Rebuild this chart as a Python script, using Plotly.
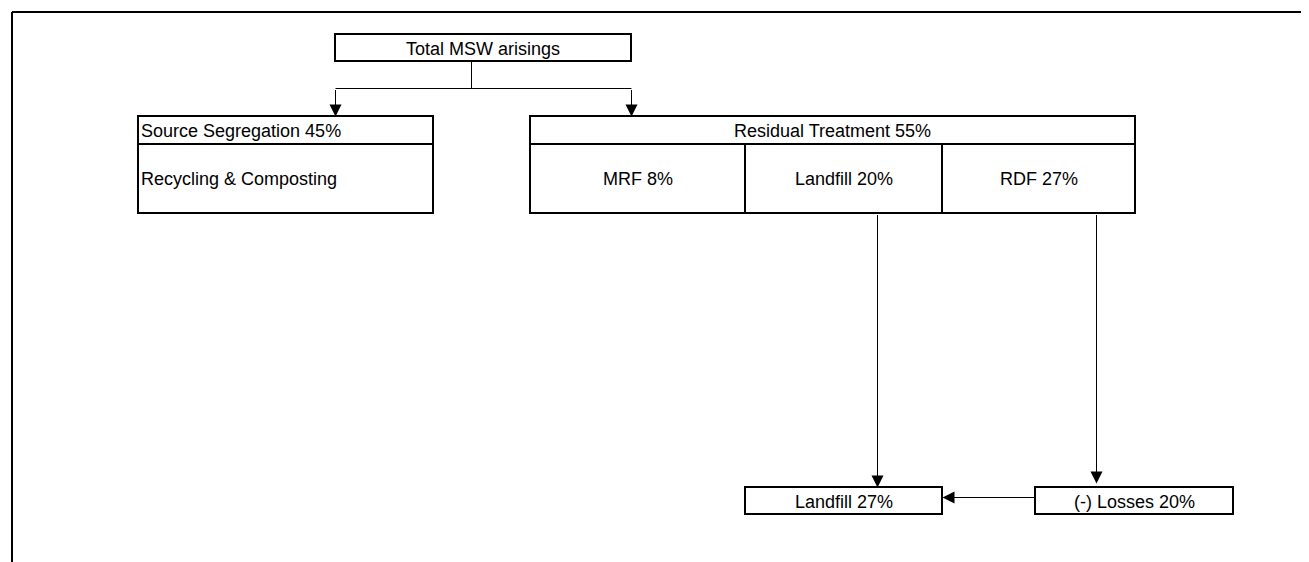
"""MSW treatment flow diagram"""

import plotly.graph_objects as go

# --- data -------------------------------------------------------------
top_label = "Total MSW arisings"
split_names = ["Source Segregation", "Residual Treatment"]
split_pct = [45, 55]
source_sub = "Recycling & Composting"
residual_names = ["MRF", "Landfill", "RDF"]
residual_pct = [8, 20, 27]
final_names = ["Landfill", "(-) Losses"]
final_pct = [27, 20]

# --- geometry (pixel space of the page) --------------------------------
W, H = 1309, 562
PAD = 8  # the page body margin that sits in front of the figure
top_box = (335, 34, 631, 61)
stem_x, bus_y = 471, 88
source_box = (138, 116, 433, 213)
resid_box = (530, 116, 1135, 213)
header_y = 144
resid_div = [745, 942]
final_boxes = [(745, 487, 942, 514), (1035, 487, 1233, 514)]

FONT = dict(family="Liberation Sans, Arial, sans-serif", size=18, color="black")

fig = go.Figure()
shapes = []
annotations = []


def box(x0, y0, x1, y1, width=2):
    shapes.append(dict(type="rect", x0=x0, y0=y0, x1=x1, y1=y1,
                       line=dict(color="black", width=width)))


def line(x0, y0, x1, y1, width=1):
    # half-pixel nudge keeps 1px strokes crisp
    o = 0.5 if width == 1 else 0
    shapes.append(dict(type="line", x0=x0 + o, y0=y0 + o, x1=x1 + o, y1=y1 + o,
                       line=dict(color="black", width=width)))


def arrow(x0, y0, x1, y1):
    annotations.append(dict(x=x1 + 0.5, y=y1 + 0.5, ax=x0 + 0.5, ay=y0 + 0.5,
                            xref="x", yref="y", axref="x", ayref="y", text="",
                            showarrow=True, arrowhead=2, arrowsize=2.4,
                            arrowwidth=1, arrowcolor="black",
                            standoff=0, startstandoff=0))


def label(x, y, text, anchor="center"):
    annotations.append(dict(x=x, y=y, xref="x", yref="y", text=text,
                            showarrow=False, xanchor=anchor, yanchor="middle",
                            font=FONT))


# outer frame (runs off the right and bottom edges)
line(12, 12, W + 20, 12, width=2)
line(12, 12, 12, H + 20, width=2)

# top node
box(*top_box)
label((top_box[0] + top_box[2]) / 2, (top_box[1] + top_box[3]) / 2 + 1, top_label)

# split into two streams
line(stem_x, top_box[3], stem_x, bus_y)
line(top_box[0], bus_y, top_box[2], bus_y)
arrow(top_box[0], bus_y, top_box[0], source_box[1])
arrow(top_box[2], bus_y, top_box[2], resid_box[1])

# source segregation
box(*source_box)
line(source_box[0], header_y, source_box[2], header_y, width=2)
label(source_box[0] + 1, (source_box[1] + header_y) / 2 + 1,
      f"{split_names[0]} {split_pct[0]}%", anchor="left")
label(source_box[0] + 1, (header_y + source_box[3]) / 2, source_sub, anchor="left")

# residual treatment
box(*resid_box)
line(resid_box[0], header_y, resid_box[2], header_y, width=2)
for xd in resid_div:
    line(xd, header_y, xd, resid_box[3], width=2)
label((resid_box[0] + resid_box[2]) / 2, (resid_box[1] + header_y) / 2 + 1,
      f"{split_names[1]} {split_pct[1]}%")
edges = [resid_box[0]] + resid_div + [resid_box[2]]
for i, (name, pct) in enumerate(zip(residual_names, residual_pct)):
    label((edges[i] + edges[i + 1]) / 2, (header_y + resid_box[3]) / 2, f"{name} {pct}%")

# final destinations
for (x0, y0, x1, y1), name, pct in zip(final_boxes, final_names, final_pct):
    box(x0, y0, x1, y1)
    label((x0 + x1) / 2, (y0 + y1) / 2 + 1, f"{name} {pct}%")

arrow(877, resid_box[3], 877, final_boxes[0][1])
arrow(1096, resid_box[3], 1096, final_boxes[1][1] - 4)
arrow(final_boxes[1][0], 497, final_boxes[0][2], 497)

fig.update_layout(
    width=W, height=H,
    margin=dict(l=0, r=0, t=0, b=0),
    plot_bgcolor="white", paper_bgcolor="white",
    xaxis=dict(range=[PAD, W + PAD], visible=False, fixedrange=True),
    yaxis=dict(range=[H + PAD, PAD], visible=False, fixedrange=True),
    shapes=shapes, annotations=annotations,
    showlegend=False,
)

fig.write_html("out.html")
